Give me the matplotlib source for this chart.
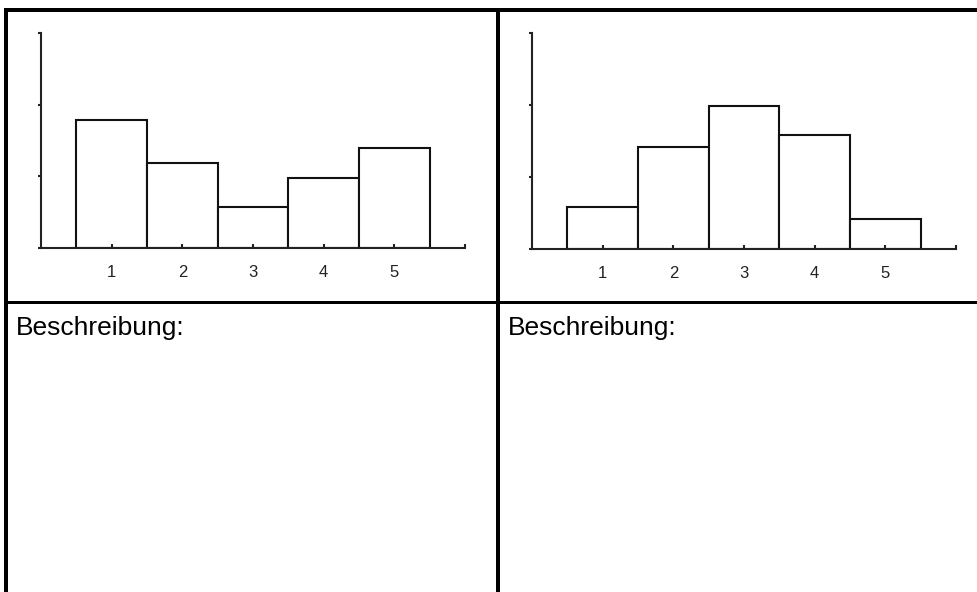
import matplotlib
matplotlib.use("Agg")
import matplotlib.pyplot as plt
from matplotlib.lines import Line2D

plt.rcParams['font.family'] = ['Liberation Sans', 'DejaVu Sans']

W, H = 978, 592

# histogram data
categories = [1, 2, 3, 4, 5]
left_values = [1.78, 1.19, 0.57, 0.98, 1.40]
right_values = [0.58, 1.41, 1.99, 1.58, 0.41]
yticks = [0, 1, 2, 3]
label_text = 'Beschreibung:'


def px_line(fig, x0, y0, x1, y1, width_px):
    # pixel coords measured from the top-left corner
    fig.add_artist(Line2D([x0 / W, x1 / W], [1 - y0 / H, 1 - y1 / H],
                          transform=fig.transFigure, color='black',
                          linewidth=width_px * 0.72, solid_capstyle='butt'))


def hist_panel(fig, left_px, top_px, right_px, bottom_px, values):
    ax = fig.add_axes([left_px / W, 1 - bottom_px / H,
                       (right_px - left_px) / W, (bottom_px - top_px) / H])
    ax.bar(categories, values, width=1.0, color='white',
           edgecolor='#111111', linewidth=1.5)
    ax.set_xlim(0, 6)
    ax.set_ylim(0, 3)
    for side in ('top', 'right'):
        ax.spines[side].set_visible(False)
    for side in ('left', 'bottom'):
        ax.spines[side].set_linewidth(1.5)
        ax.spines[side].set_color('#222222')
    ax.set_xticks(categories)
    ax.set_xticks([6], minor=True)
    ax.set_yticks(yticks)
    ax.set_yticklabels([])
    ax.tick_params(axis='x', which='both', direction='in', length=3, width=1.5,
                   pad=12, labelsize=12, colors='#222222')
    ax.tick_params(axis='y', direction='out', length=2, width=1.5,
                   colors='#222222')
    ax.patch.set_alpha(0)
    return ax


fig = plt.figure(figsize=(W / 100, H / 100), dpi=100)

hist_panel(fig, 41, 33, 465, 248, left_values)
hist_panel(fig, 532, 33, 956, 249, right_values)

# table grid
px_line(fig, 4, 10, W, 10, 4)        # top
px_line(fig, 6, 8, 6, H, 4)          # left
px_line(fig, 498, 8, 498, H, 4)      # middle
px_line(fig, 4, 301.5, W, 301.5, 3)  # horizontal divider

fig.text(16 / W, 1 - 335 / H, label_text, fontsize=19, va='baseline', ha='left')
fig.text(508 / W, 1 - 335 / H, label_text, fontsize=19, va='baseline', ha='left')

fig.savefig('out.png', dpi=100)
